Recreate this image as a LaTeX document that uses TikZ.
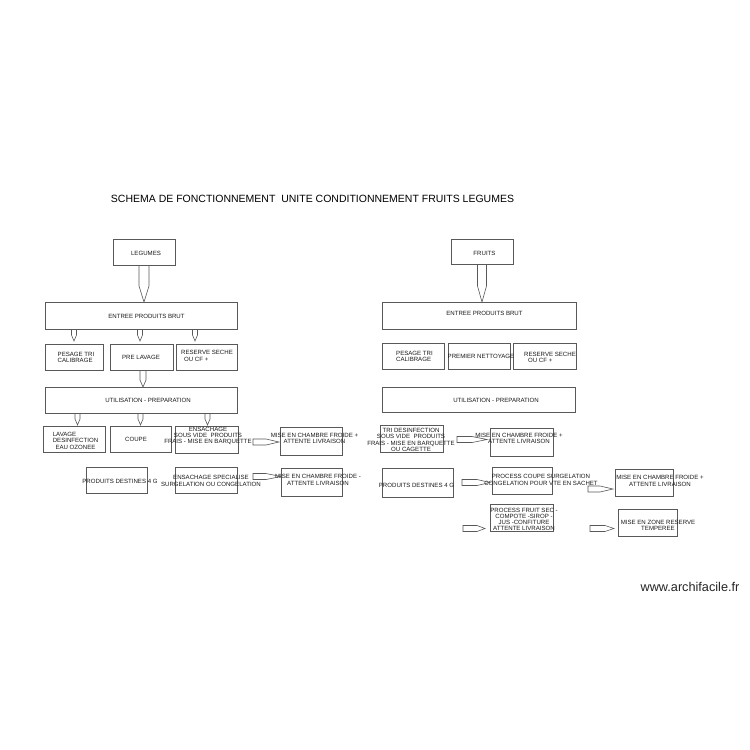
\documentclass[tikz,border=0pt]{standalone}
\usepackage{fontspec}
\setmainfont{Liberation Sans}
\usetikzlibrary{calc}
\newcommand\bx[5]{\node[box, minimum width={(#4-#2)*1pt}, minimum height={(#5-#3)*1pt}] (#1) at ({(#2+#4)/2},{(#3+#5)/2}) {};}
\newcommand\vpen[4]{\draw[conn] ($(#1)+(-#3,0)$) -- ($(#2)+(-#3,-#4)$) -- (#2) -- ($(#2)+(#3,-#4)$) -- ($(#1)+(#3,0)$);}
\newcommand\hpen[4]{\draw[conn] ($(#1)+(0,-#3)$) -- ($(#2)+(-#4,-#3)$) -- (#2) -- ($(#2)+(-#4,#3)$) -- ($(#1)+(0,#3)$) -- cycle;}
\begin{document}
\begin{tikzpicture}[x=1pt,y=-1pt,
  box/.style={draw=black!65, line width=0.6pt, rectangle, inner sep=0pt, outer sep=0pt},
  conn/.style={draw=black!65, line width=0.6pt, line join=miter},
  lbl/.style={inner sep=0pt, align=center, text=black!90, font=\fontsize{6.1}{6.4}\selectfont},
  lbll/.style={lbl, align=left}]
\fill[white] (0,0) rectangle (750,750);
\useasboundingbox (0,0) rectangle (750,750);

\node[inner sep=0pt, font=\fontsize{10.5}{12}\selectfont] (title) at (312.5,199) {SCHEMA DE FONCTIONNEMENT\ \ UNITE CONDITIONNEMENT FRUITS LEGUMES};
\node[inner sep=0pt, font=\fontsize{12.7}{14}\selectfont, text=black!85] (wm) at (690,587) {www.archifacile.fr};

% ---------- LEFT: LEGUMES ----------
\bx{legumes}{113}{239}{175}{265}
\bx{entreeL}{45}{302}{237}{329}
\bx{pesageL}{45}{344}{103}{370}
\bx{prelavL}{110}{344}{173}{370}
\bx{reserveL}{176}{344}{237}{370}
\bx{utilL}{45}{387}{237}{413}
\bx{lavageL}{43}{426}{105}{452}
\bx{coupeL}{110}{426}{171}{452}
\bx{ensachL}{175}{426}{238}{453}
\bx{chfLa}{280}{427}{342}{455}
\bx{prodL}{86}{467}{147}{493}
\bx{ensspL}{175}{467}{237}{493}
\bx{chfLb}{281}{468}{342}{496}

\node[lbl] (tLegumes) at (146,253) {LEGUMES};
\node[lbl] (tEntreeL) at (146.5,316) {ENTREE PRODUITS BRUT};
\node[lbll] (tPesageL) at (76,357.5) {PESAGE TRI\\CALIBRAGE};
\node[lbl] (tPrelavL) at (141,357) {PRE LAVAGE};
\node[lbll] (tReserveL) at (207,356) {RESERVE SECHE\\\hspace*{3pt}OU CF +};
\node[lbl] (tUtilL) at (148,400) {UTILISATION - PREPARATION};
\node[lbl] (tLavageL) at (75.5,440.5) {\rlap{LAVAGE}\phantom{DESINFECTION}\\DESINFECTION\\EAU OZONEE};
\node[lbl] (tCoupeL) at (136,439) {COUPE};
\node[lbl] (tEnsachL) at (208,436) {ENSACHAGE\\SOUS VIDE\ \ PRODUITS\\FRAIS - MISE EN BARQUETTE};
\node[lbl] (tChfLa) at (314.5,438.5) {MISE EN CHAMBRE FROIDE +\\ATTENTE LIVRAISON};
\node[lbl] (tProdL) at (120,481) {PRODUITS DESTINES 4 G};
\node[lbl] (tEnsspL) at (211,481) {ENSACHAGE SPECIALISE\\SURGELATION OU CONGELATION};
\node[lbl] (tChfLb) at (318,480) {MISE EN CHAMBRE FROIDE -\\ATTENTE LIVRAISON};

% arrows left
\vpen{legumes.south}{legumes.south |- entreeL.north}{5}{16}
\coordinate (e1s) at (74,329);  \coordinate (e1t) at (74,341);
\coordinate (e2s) at (140,329); \coordinate (e2t) at (140,341);
\coordinate (e3s) at (195,329); \coordinate (e3t) at (195,341);
\vpen{e1s}{e1t}{2.5}{6}
\vpen{e2s}{e2t}{2.5}{6}
\vpen{e3s}{e3t}{2.5}{6}
\coordinate (p1s) at (143,370); \coordinate (p1t) at (143,387);
\vpen{p1s}{p1t}{3}{7}
\coordinate (u1s) at (77.5,413);  \coordinate (u1t) at (77.5,425);
\coordinate (u2s) at (140.5,413); \coordinate (u2t) at (140.5,425);
\coordinate (u3s) at (207.5,413); \coordinate (u3t) at (207.5,425);
\vpen{u1s}{u1t}{2.5}{6}
\vpen{u2s}{u2t}{2.5}{6}
\vpen{u3s}{u3t}{2.5}{6}
\coordinate (h1s) at (253,442); \coordinate (h1t) at (279,442);
\hpen{h1s}{h1t}{3}{13}
\coordinate (h2s) at (253,476.5); \coordinate (h2t) at (281,476.5);
\hpen{h2s}{h2t}{3}{15}

% ---------- RIGHT: FRUITS ----------
\bx{fruits}{451}{239}{513}{264}
\bx{entreeR}{382}{302}{576}{329}
\bx{pesageR}{382}{343}{444}{369}
\bx{premR}{448}{343}{510}{369}
\bx{reserveR}{513}{343}{576}{369}
\bx{utilR}{382}{387}{575}{412}
\bx{triR}{380}{425}{443}{452}
\bx{chfRa}{490}{428}{553}{456}
\bx{prodR}{382}{468}{453}{497}
\bx{procR}{492}{467}{552}{494}
\bx{chfRb}{615}{469}{673}{496}
\bx{fruitsecR}{490}{504}{553}{531}
\bx{zoneR}{618}{509}{677}{536}

\node[lbl] (tFruits) at (484.5,253) {FRUITS};
\node[lbl] (tEntreeR) at (484.5,313) {ENTREE PRODUITS BRUT};
\node[lbll] (tPesageR) at (414.5,356.5) {PESAGE TRI\\CALIBRAGE};
\node[lbl] (tPremR) at (481,356) {PREMIER NETTOYAGE};
\node[lbll] (tReserveR) at (550,357.5) {RESERVE SECHE\\\hspace*{4pt}OU CF +};
\node[lbl] (tUtilR) at (496,400) {UTILISATION - PREPARATION};
\node[lbl] (tTriR) at (411,440) {TRI DESINFECTION\\SOUS VIDE\ \ PRODUITS\\FRAIS - MISE EN BARQUETTE\\OU CAGETTE};
\node[lbl] (tChfRa) at (519,438.5) {MISE EN CHAMBRE FROIDE +\\ATTENTE LIVRAISON};
\node[lbl] (tProdR) at (416.5,485) {PRODUITS DESTINES 4 G};
\node[lbl] (tProcR) at (541,480) {PROCESS COUPE SURGELATION\\CONGELATION POUR VTE EN SACHET};
\node[lbl] (tChfRb) at (660,481) {MISE EN CHAMBRE FROIDE +\\ATTENTE LIVRAISON};
\node[lbl, font=\fontsize{6.1}{5.8}\selectfont] (tFruitsecR) at (524,519.5) {PROCESS FRUIT SEC -\\COMPOTE -SIROP -\\JUS -CONFITURE\\ATTENTE LIVRAISON};
\node[lbl] (tZoneR) at (658,525.5) {MISE EN ZONE RESERVE\\TEMPEREE};

% arrows right
\vpen{fruits.south}{fruits.south |- entreeR.north}{4.5}{16}
\coordinate (r1s) at (457,439.5); \coordinate (r1t) at (487,439.5);
\hpen{r1s}{r1t}{3}{15}
\coordinate (r2s) at (462,482.5); \coordinate (r2t) at (490,482.5);
\hpen{r2s}{r2t}{3}{13}
\coordinate (r3s) at (588,489); \coordinate (r3t) at (613,489);
\hpen{r3s}{r3t}{3}{13}
\coordinate (r4s) at (463,528.5); \coordinate (r4t) at (485,528.5);
\hpen{r4s}{r4t}{3}{8}
\coordinate (r5s) at (590,528.5); \coordinate (r5t) at (614,528.5);
\hpen{r5s}{r5t}{3}{9}
\end{tikzpicture}
\end{document}
